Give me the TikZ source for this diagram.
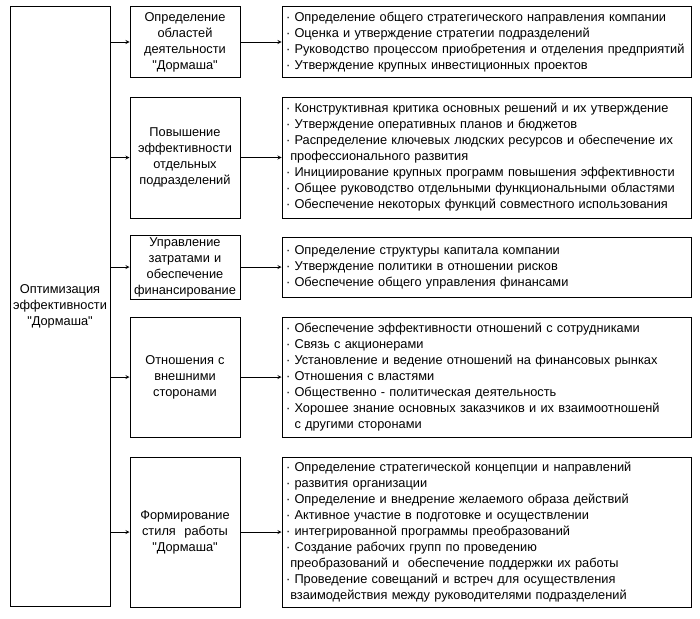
\documentclass[tikz,border=0pt]{standalone}
\usepackage{fontspec}
\newfontfamily\chartfont{Liberation Sans}
\usepackage{tikz}
\tikzset{
  box/.style={draw, line width=1pt, inner sep=0pt, font=\chartfont\fontsize{12.8}{16}\selectfont},
  leftbox/.style={box, minimum width=100, minimum height=599, text width=96, align=center},
  midbox/.style={box, minimum width=110, text width=106, align=center},
  itembox/.style={box, minimum width=409, text width=401, align=left},
  arr/.style={->, >=stealth, line width=0.8pt}
}

\begin{document}
\begin{tikzpicture}[x=1pt, y=-1pt]
\useasboundingbox (0,0) rectangle (700,618);

% Main goal
\node[leftbox] (opt) at (60,306.5) {Оптимизация\\эффективности\\"Дормаша"};

% Directions
\node[midbox, minimum height=70] (m1) at (185,42) {Определение\\областей\\деятельности\\ "Дормаша"};
\node[midbox, minimum height=121] (m2) at (185,157.5) {Повышение\\эффективности\\отдельных\\подразделений};
\node[midbox, minimum height=64] (m3) at (185,267) {Управление\\затратами и\\обеспечение\\финансирование};
\node[midbox, minimum height=120] (m4) at (185,377) {Отношения с\\внешними\\сторонами};
\node[midbox, minimum height=150] (m5) at (185,532) {Формирование\\стиля\ \ работы\\"Дормаша"};

% Tasks
\node[itembox, minimum height=70] (r1) at (486.5,42) {%
· Определение общего стратегического направления компании\\
· Оценка и утверждение стратегии подразделений\\
· Руководство процессом приобретения и отделения предприятий\\
· Утверждение крупных инвестиционных проектов};
\node[itembox, minimum height=121] (r2) at (486.5,157.5) {%
· Конструктивная критика основных решений и их утверждение\\
· Утверждение оперативных планов и бюджетов\\
· Распределение ключевых людских ресурсов и обеспечение их\\
\ профессионального развития\\
· Инициирование крупных программ повышения эффективности\\
· Общее руководство отдельными функциональными областями\\
· Обеспечение некоторых функций совместного использования};
\node[itembox, minimum height=60] (r3) at (486.5,267) {%
· Определение структуры капитала компании\\
· Утверждение политики в отношении рисков\\
· Обеспечение общего управления финансами};
\node[itembox, minimum height=120] (r4) at (486.5,377) {%
· Обеспечение эффективности отношений с сотрудниками\\
· Связь с акционерами\\
· Установление и ведение отношений на финансовых рынках\\
· Отношения с властями\\
· Общественно - политическая деятельность\\
· Хорошее знание основных заказчиков и их взаимоотношенй\\
\ \ с другими сторонами};
\node[itembox, minimum height=150] (r5) at (486.5,532) {%
· Определение стратегической концепции и направлений\\
· развития организации\\
· Определение и внедрение желаемого образа действий\\
· Активное участие в подготовке и осуществлении\\
· интегрированной программы преобразований\\
· Создание рабочих групп по проведению\\
\ преобразований и\ \ обеспечение поддержки их работы\\
· Проведение совещаний и встреч для осуществления\\
\ взаимодействия между руководителями подразделений};

% Connectors
\foreach \i in {1,...,5} {
  \draw[arr] (opt.east |- m\i.west) -- (m\i.west);
  \draw[arr] (m\i.east) -- (r\i.west);
}
\end{tikzpicture}
\end{document}
